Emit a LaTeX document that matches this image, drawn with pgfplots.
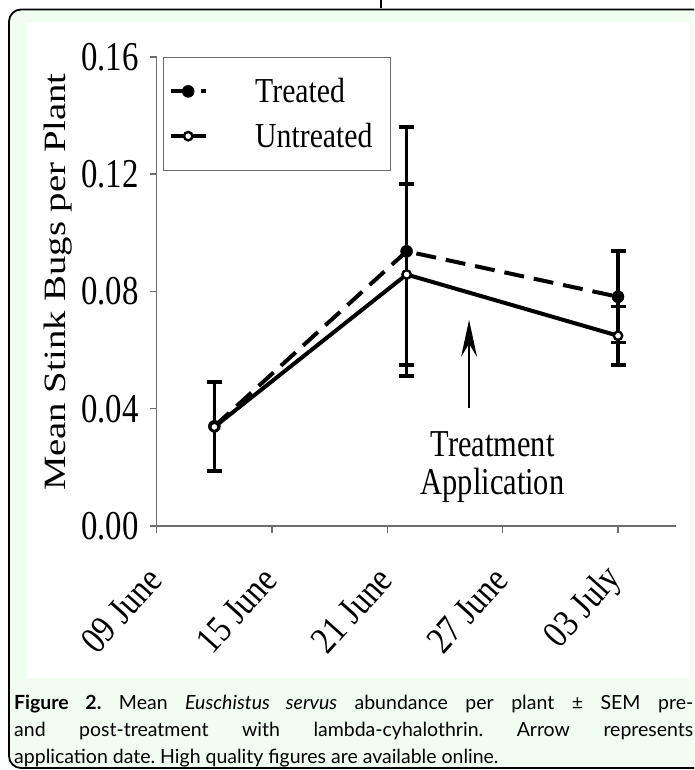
\documentclass[border=0pt]{standalone}
\usepackage{fontspec}
\setmainfont{Liberation Serif}
\newfontfamily\capfont{Lato}
\newfontfamily\narrowserif[FakeStretch=0.8]{Liberation Serif}
\newfontfamily\legserif[FakeStretch=0.85]{Liberation Serif}
\newfontfamily\ylabserif[FakeStretch=1.25]{Liberation Serif}
\newfontfamily\xserif[FakeStretch=0.85]{Liberation Serif}
\usepackage{pgfplots}
\pgfplotsset{compat=1.18}
\definecolor{mint}{RGB}{240,253,240}
\definecolor{axgray}{RGB}{110,110,110}
\begin{document}
\begin{tikzpicture}[x=1pt,y=1pt]
\clip (0pt,0pt) rectangle (694pt,770pt);
\fill[white] (0pt,0pt) rectangle (694pt,770pt);
\draw[line width=1.8pt, rounded corners=12pt, fill=mint] (9pt,2pt) rectangle (730pt,760.5pt);
\fill[white] (26.7pt,92pt) rectangle (689pt,748.3pt);
\draw[line width=1.5pt] (381pt,770pt) -- (381pt,762pt);
\node[anchor=base west, inner sep=0pt] at (14pt,60pt) {\parbox[t]{679pt}{\capfont\fontsize{19.5}{27}\selectfont\hyphenpenalty=10000\frenchspacing
\textbf{Figure 2.} Mean \textit{Euschistus servus} abundance per plant ± SEM pre-\linebreak and post-treatment with lambda-cyhalothrin. Arrow represents\linebreak application date. High quality figures are available online.}};
\begin{axis}[
  at={(156.7pt,244pt)}, anchor=south west,
  scale only axis, width=519pt, height=469pt,
  xmin=0, xmax=27, ymin=0, ymax=0.16,
  axis x line*=bottom, axis y line*=left,
  axis line style={axgray, line width=1.5pt},
  every tick/.style={axgray, line width=1.5pt},
  major tick length=7pt,
  tick align=outside,
  xtick={0,6,12,18,24},
  xticklabels={09 June, 15 June, 21 June, 27 June, 03 July},
  ytick={0,0.04,0.08,0.12,0.16},
  yticklabels={0.00,0.04,0.08,0.12,0.16},
  yticklabel style={font=\narrowserif\fontsize{41}{41}\selectfont, anchor=east, inner sep=0pt, xshift=-11pt},
  xticklabel style={font=\xserif\fontsize{38}{38}\selectfont, xshift=-2pt, yshift=-40pt, rotate=48, anchor=east, inner sep=0pt},
  ylabel={Mean Stink Bugs per Plant},
  ylabel style={at={(axis description cs:-0.19,0.52)}, anchor=center, font=\ylabserif\fontsize{31}{31}\selectfont},
  legend style={at={(axis description cs:0.0116,1)}, anchor=north west, draw=axgray, line width=1pt,
    font=\legserif\fontsize{35}{35}\selectfont, inner xsep=6pt, inner ysep=19pt, row sep=15pt,
    cells={anchor=west}},
  legend image code/.code={%
    \draw[#1, mark repeat=2, mark phase=2] plot coordinates {(0pt,0pt) (17pt,0pt) (35pt,0pt)};
    \path[draw=none, fill=none] (0pt,-2pt) rectangle (82pt,2pt);},
  clip=false,
]
\addplot[black, line width=4pt, dash pattern=on 20pt off 10pt,
  mark=*, mark size=6pt, mark options={solid, fill=black, line width=0.5pt},
  error bars/.cd, y dir=both, y explicit, error mark=-,
  error mark options={rotate=90, black, line width=3.8pt, mark size=7.5pt, solid},
  error bar style={black, line width=3.2pt, solid}]
  coordinates {(3,0.0340) +- (0,0.0152) (13,0.0937) +- (0,0.0425) (24,0.0782) +- (0,0.0156)};
\addlegendentry{Treated}
\addplot[black, line width=4pt, solid,
  mark=*, mark size=4.2pt, mark options={solid, fill=white, draw=black, line width=2.4pt},
  error bars/.cd, y dir=both, y explicit, error mark=-,
  error mark options={rotate=90, black, line width=3.8pt, mark size=7.5pt, solid},
  error bar style={black, line width=3.2pt, solid}]
  coordinates {(3,0.0338) +- (0,0.0152) (13,0.0858) +- (0,0.0309) (24,0.0649) +- (0,0.0100)};
\addlegendentry{Untreated\rule{10pt}{0pt}}
\draw[black, line width=2.5pt] (axis cs:16.25,0.0403) -- (axis cs:16.25,0.0640);
\fill[black] (axis cs:16.25,0.0703) -- ++(-8pt,-37pt) -- ++(8pt,13pt) -- ++(8pt,-13pt) -- cycle;
\node[anchor=base, inner sep=0pt, font=\narrowserif\fontsize{38}{38}\selectfont] at (axis cs:17.47,0.02354) {Treatment};
\node[anchor=base, inner sep=0pt, font=\narrowserif\fontsize{38}{38}\selectfont] at (axis cs:17.47,0.01058) {Application};
\end{axis}
\end{tikzpicture}
\end{document}
